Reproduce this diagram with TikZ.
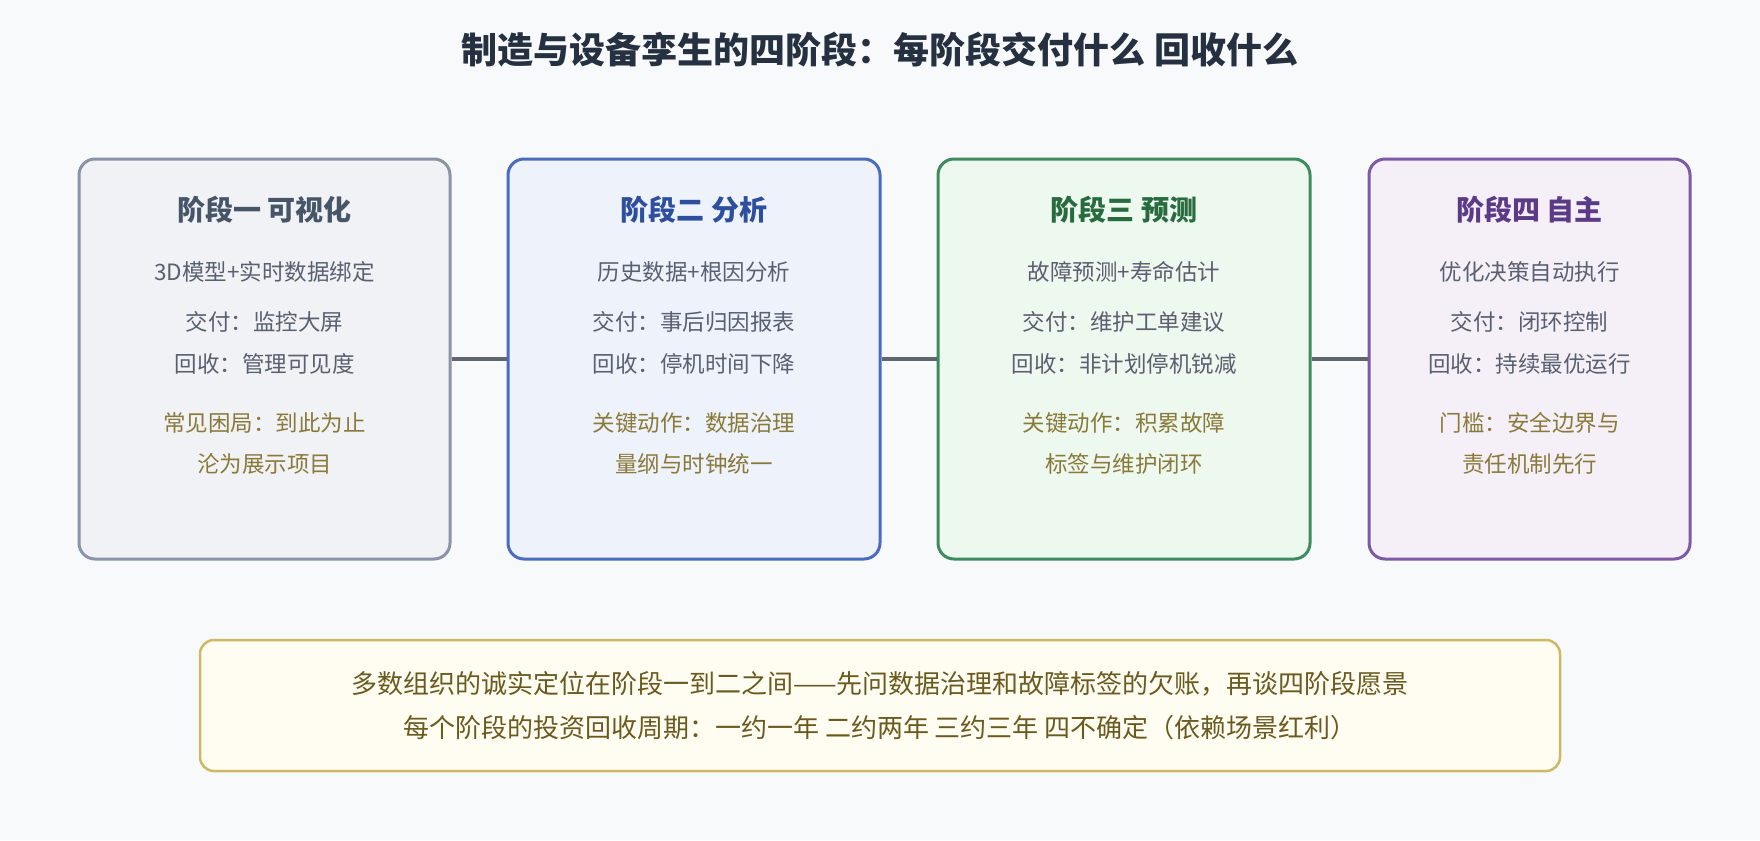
\documentclass[tikz,border=0pt]{standalone}
\usepackage{fontspec}
\setmainfont{Noto Sans CJK SC}
\begin{document}
\begin{tikzpicture}[x=1pt,y=-1pt,
 box/.style={draw,line width=3pt,rounded corners=16pt,minimum height=400pt},
 hd/.style={font=\fontsize{28}{32}\selectfont\bfseries},
 bd/.style={font=\fontsize{22.5}{26}\selectfont,text=body},
 gd/.style={font=\fontsize{22.5}{26}\selectfont,text=gold},
 conn/.style={draw=connc,line width=3.5pt}]
\definecolor{bg}{HTML}{F8F9FB}
\definecolor{body}{HTML}{5A6070}
\definecolor{gold}{HTML}{8A7A3A}
\definecolor{connc}{HTML}{5F6670}
\fill[bg] (0,0) rectangle (1760,840);
\useasboundingbox (0,0) rectangle (1760,840);
\node[font=\fontsize{36}{40}\selectfont\bfseries,text={rgb,255:red,37;green,48;blue,64}] (title) at (880,50) {制造与设备孪生的四阶段：每阶段交付什么 回收什么};
\definecolor{b1}{HTML}{8A94A6}\definecolor{f1}{HTML}{F1F2F6}\definecolor{h1}{HTML}{475569}
\definecolor{b2}{HTML}{4A6BBF}\definecolor{f2}{HTML}{EEF2FB}\definecolor{h2}{HTML}{2D4F9E}
\definecolor{b3}{HTML}{3D8B5E}\definecolor{f3}{HTML}{EDF8EF}\definecolor{h3}{HTML}{276B3E}
\definecolor{b4}{HTML}{7D5AA6}\definecolor{f4}{HTML}{F5EFF8}\definecolor{h4}{HTML}{5B3A87}
\node[box,draw=b1,fill=f1,minimum width=371pt] (s1) at (264.5,359) {};
\node[box,draw=b2,fill=f2,minimum width=372pt] (s2) at (694,359) {};
\node[box,draw=b3,fill=f3,minimum width=372pt] (s3) at (1124,359) {};
\node[box,draw=b4,fill=f4,minimum width=321pt] (s4) at (1529.5,359) {};
\draw[conn] (s1.east) -- (s2.west);
\draw[conn] (s2.east) -- (s3.west);
\draw[conn] (s3.east) -- (s4.west);
% stage 1
\node[hd,text=h1] (t1) at (264.5,210) {阶段一 可视化};
\node[bd] (a1) at (264.5,272) {3D模型+实时数据绑定};
\node[bd] (d1) at (264.5,322) {交付：监控大屏};
\node[bd] (r1) at (264.5,364) {回收：管理可见度};
\node[gd] (g1) at (264.5,423) {常见困局：到此为止};
\node[gd] (k1) at (264.5,464) {沦为展示项目};
% stage 2
\node[hd,text=h2] (t2) at (694,210) {阶段二 分析};
\node[bd] (a2) at (694,272) {历史数据+根因分析};
\node[bd] (d2) at (694,322) {交付：事后归因报表};
\node[bd] (r2) at (694,364) {回收：停机时间下降};
\node[gd] (g2) at (694,423) {关键动作：数据治理};
\node[gd] (k2) at (694,464) {量纲与时钟统一};
% stage 3
\node[hd,text=h3] (t3) at (1124,210) {阶段三 预测};
\node[bd] (a3) at (1124,272) {故障预测+寿命估计};
\node[bd] (d3) at (1124,322) {交付：维护工单建议};
\node[bd] (r3) at (1124,364) {回收：非计划停机锐减};
\node[gd] (g3) at (1124,423) {关键动作：积累故障};
\node[gd] (k3) at (1124,464) {标签与维护闭环};
% stage 4
\node[hd,text=h4] (t4) at (1529.5,210) {阶段四 自主};
\node[bd] (a4) at (1529.5,272) {优化决策自动执行};
\node[bd] (d4) at (1529.5,322) {交付：闭环控制};
\node[bd] (r4) at (1529.5,364) {回收：持续最优运行};
\node[gd] (g4) at (1529.5,423) {门槛：安全边界与};
\node[gd] (k4) at (1529.5,464) {责任机制先行};
% bottom
\node[draw={rgb,255:red,205;green,184;blue,101},fill={rgb,255:red,255;green,252;blue,242},line width=2.5pt,rounded corners=14pt,minimum width=1360pt,minimum height=131pt] (nb) at (880,705.5) {};
\node[font=\fontsize{26}{30}\selectfont,text={rgb,255:red,107;green,90;blue,30}] (n1) at (880,684) {多数组织的诚实定位在阶段一到二之间——先问数据治理和故障标签的欠账，再谈四阶段愿景};
\node[font=\fontsize{26}{30}\selectfont,text={rgb,255:red,107;green,90;blue,30}] (n2) at (880,728) {每个阶段的投资回收周期：一约一年 二约两年 三约三年 四不确定（依赖场景红利）};
\end{tikzpicture}
\end{document}
